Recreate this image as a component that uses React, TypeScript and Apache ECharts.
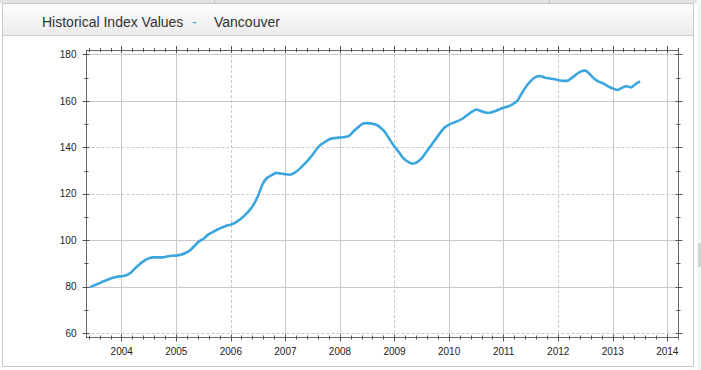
import React, { useEffect, useRef } from 'react';
import * as echarts from 'echarts';

const TITLE = 'Historical Index Values';
const REGION = 'Vancouver';

// Monthly index values, starting June 2003
const START_YEAR = 2003;
const START_MONTH = 6;
const indexValues = [
  79.9, 80.7, 81.5, 82.4, 83.2, 83.9, 84.4, 84.6, 85.0, 86.1, 88.1, 89.9,
  91.3, 92.3, 92.7, 92.7, 92.7, 93.1, 93.4, 93.5, 93.8, 94.6, 95.7, 97.6,
  99.6, 100.7, 102.5, 103.6, 104.6, 105.5, 106.3, 106.8, 107.7, 109.0, 110.7, 112.7,
  115.4, 119.2, 124.3, 127.0, 128.1, 129.1, 128.8, 128.5, 128.3, 129.1, 130.6, 132.5,
  134.6, 137.0, 139.7, 141.5, 142.8, 143.8, 144.1, 144.3, 144.5, 145.0, 147.0, 148.7,
  150.3, 150.5, 150.3, 149.8, 148.4, 146.4, 143.3, 140.4, 137.9, 135.3, 133.8, 133.0,
  133.7, 135.4, 138.1, 140.8, 143.5, 146.2, 148.6, 149.9, 150.7, 151.5, 152.5, 154.0,
  155.4, 156.4, 155.7, 155.1, 155.0, 155.6, 156.4, 157.1, 157.7, 158.7, 160.1, 163.4,
  166.4, 168.7, 170.3, 170.8, 170.2, 169.8, 169.5, 169.1, 168.7, 168.7, 170.0, 171.5,
  172.8, 173.1, 171.5, 169.5, 168.3, 167.5, 166.3, 165.4, 164.8, 165.7, 166.4, 165.9,
  167.3, 168.5,
];

const yearTicks = [2004, 2005, 2006, 2007, 2008, 2009, 2010, 2011, 2012, 2013, 2014];
const solidYears = [2004, 2005, 2007, 2008, 2010, 2011, 2013, 2014];
const dashedYears = [2006, 2009, 2012];
const valueTicks = [60, 80, 100, 120, 140, 160, 180];
const valueMinorTicks = [70, 90, 110, 130, 150, 170];
const solidValues = [80, 100, 160, 180];
const dashedValues = [60, 120, 140];

const X_MIN = 2003.355;
const X_MAX = 2014.205;
const Y_MIN = 58.2;
const Y_MAX = 182.0;

const FONT = '"Liberation Sans", Arial, Helvetica, sans-serif';

export default function App() {
  const ref = useRef<HTMLDivElement>(null);

  useEffect(() => {
    if (!ref.current) return;
    const chart = echarts.init(ref.current, undefined, { renderer: 'svg' });

    const data = indexValues.map((v, i) => [START_YEAR + (START_MONTH - 1 + i) / 12, v]);

    const xMinor: number[] = [];
    for (let y = 2003; y <= 2014; y++) {
      for (let j = 1; j <= 4; j++) {
        const t = +(y + j / 5).toFixed(2);
        if (t > X_MIN && t < X_MAX) xMinor.push(t);
      }
    }

    const frameLine = { show: true, lineStyle: { color: '#555', width: 1, type: [1, 1] } };
    const off = { show: false };
    const xBase = { type: 'value', min: X_MIN, max: X_MAX, gridIndex: 0 };
    const yBase = { type: 'value', min: Y_MIN, max: Y_MAX, gridIndex: 0 };

    const tickAxis = (base: any, position: string, values: number[], len: number, offset: number) => ({
      ...base,
      position,
      offset,
      axisLine: off,
      axisLabel: off,
      splitLine: off,
      axisTick: { show: true, customValues: values, length: len, inside: false, lineStyle: { color: '#555', width: 1 } },
    });
    const gridAxis = (base: any, position: string, values: number[], type: any) => ({
      ...base,
      position,
      axisLine: off,
      axisLabel: off,
      axisTick: { show: false, customValues: values },
      splitLine: { show: true, lineStyle: { color: '#c9c9c9', width: 1, type } },
    });

    const option: any = {
      animation: false,
      backgroundColor: 'transparent',
      grid: { left: 86.5, right: 22.5, top: 50, bottom: 32.5, containLabel: false },
      xAxis: [
        {
          ...xBase,
          position: 'bottom',
          axisLine: frameLine,
          axisTick: { show: false, customValues: yearTicks },
          splitLine: off,
          axisLabel: {
            show: true,
            customValues: yearTicks,
            formatter: (v: number) => String(Math.round(v)),
            color: '#222',
            fontSize: 10,
            fontFamily: FONT,
            margin: 9,
          },
        },
        { ...xBase, position: 'top', axisLine: frameLine, axisTick: off, axisLabel: off, splitLine: off },
        tickAxis(xBase, 'bottom', yearTicks, 7, -3),
        tickAxis(xBase, 'bottom', xMinor, 4, -2),
        tickAxis(xBase, 'top', yearTicks, 7, -3),
        tickAxis(xBase, 'top', xMinor, 4, -2),
        gridAxis(xBase, 'bottom', solidYears, 'solid'),
        gridAxis(xBase, 'bottom', dashedYears, [3, 2]),
      ],
      yAxis: [
        {
          ...yBase,
          position: 'left',
          axisLine: frameLine,
          axisTick: { show: false, customValues: valueTicks },
          splitLine: off,
          axisLabel: {
            show: true,
            customValues: valueTicks,
            color: '#222',
            fontSize: 10,
            fontFamily: FONT,
            margin: 10,
          },
        },
        { ...yBase, position: 'right', axisLine: frameLine, axisTick: off, axisLabel: off, splitLine: off },
        tickAxis(yBase, 'left', valueTicks, 7, -3),
        tickAxis(yBase, 'left', valueMinorTicks, 4, -2),
        tickAxis(yBase, 'right', valueTicks, 7, -3),
        tickAxis(yBase, 'right', valueMinorTicks, 4, -2),
        gridAxis(yBase, 'left', solidValues, 'solid'),
        gridAxis(yBase, 'left', dashedValues, [3, 2]),
      ],
      graphic: [
        {
          type: 'text',
          left: 42,
          top: 15,
          style: { text: TITLE, fill: '#333', font: `14px ${FONT}` },
        },
        {
          type: 'text',
          left: 192,
          top: 15,
          style: { text: '-', fill: '#3a9fd8', font: `14px ${FONT}` },
        },
        {
          type: 'text',
          left: 214,
          top: 15,
          style: { text: REGION, fill: '#333', font: `14px ${FONT}` },
        },
      ],
      series: [
        {
          type: 'line',
          xAxisIndex: 0,
          yAxisIndex: 0,
          data,
          showSymbol: false,
          symbol: 'none',
          smooth: 0.2,
          z: 5,
          lineStyle: { color: '#3ba5de', width: 2.6 },
          silent: true,
        },
      ],
    };

    chart.setOption(option);
    return () => chart.dispose();
  }, []);

  return (
    <div style={{ position: 'fixed', left: 0, top: 0, width: 701, height: 370, background: '#fff', overflow: 'hidden' }}>
      <div style={{ position: 'absolute', left: 0, top: 0, width: 701, height: 3, background: '#e2e2e2' }} />
      <div style={{ position: 'absolute', left: 214, top: 0, width: 1, height: 3, background: '#bdbdbd' }} />
      <div style={{ position: 'absolute', left: 549, top: 0, width: 1, height: 3, background: '#bdbdbd' }} />
      <div
        style={{
          position: 'absolute',
          left: 2,
          top: 3,
          width: 692,
          height: 364,
          border: '1px solid #c9c9c9',
          boxSizing: 'border-box',
          background: '#fff',
        }}
      />
      <div
        style={{
          position: 'absolute',
          left: 3,
          top: 4,
          width: 690,
          height: 32,
          background: 'linear-gradient(#fdfdfd, #ebebeb)',
          borderBottom: '1px solid #cfcfcf',
          boxSizing: 'border-box',
        }}
      />
      <div style={{ position: 'absolute', left: 697, top: 0, width: 4, height: 370, background: '#f2f8f8' }} />
      <div style={{ position: 'absolute', left: 698, top: 243, width: 3, height: 24, background: '#d4d4d4' }} />
      <div ref={ref} style={{ position: 'absolute', left: 0, top: 0, width: 701, height: 370 }} />
    </div>
  );
}
